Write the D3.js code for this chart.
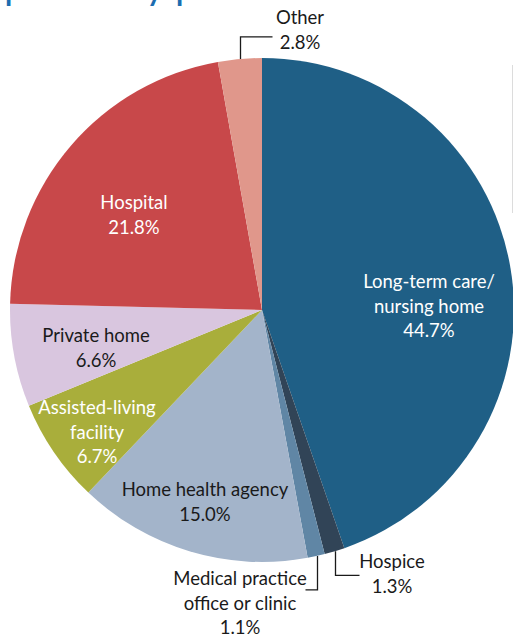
<!DOCTYPE html>
<html>
<head>
<meta charset="utf-8">
<script src="https://cdn.jsdelivr.net/npm/d3@7"></script>
<style>
  body { margin: 0; background: #fff; }
  svg text { font-family: Lato, "Open Sans", sans-serif; }
</style>
</head>
<body>
<svg id="chart" width="513" height="637"></svg>
<script>
// slices, clockwise from 12 o'clock
const categories = ["Long-term care/ nursing home", "Hospice", "Medical practice office or clinic",
  "Home health agency", "Assisted-living facility", "Private home", "Hospital", "Other"];
const values = [44.7, 1.3, 1.1, 15.0, 6.7, 6.6, 21.8, 2.8];
const labelLines = [
  ["Long-term care/", "nursing home", "44.7%"],
  ["Hospice", "1.3%"],
  ["Medical practice", "office or clinic", "1.1%"],
  ["Home health agency", "15.0%"],
  ["Assisted-living", "facility", "6.7%"],
  ["Private home", "6.6%"],
  ["Hospital", "21.8%"],
  ["Other", "2.8%"]
];

const colors = ["#1f5f86", "#314457", "#6086a5", "#a3b4ca", "#a9ae3b", "#d9c6df", "#c8484a", "#e0978b"];
const textColors = ["#fff", "#1a1a1a", "#1a1a1a", "#1a1a1a", "#fff", "#1a1a1a", "#fff", "#1a1a1a"];

// label placement (first baseline, centre x)
const labelPos = [
  {x: 429, y: 288}, {x: 392, y: 568}, {x: 240, y: 585}, {x: 205, y: 496},
  {x: 97, y: 414}, {x: 96, y: 342}, {x: 134, y: 209}, {x: 300, y: 24}
];

const cx = 262, cy = 310, radius = 252;
const svg = d3.select("#chart");

// cropped title line from the page above the chart (only descenders show)
svg.append("text")
    .attr("x", 4)
    .attr("y", -1)
    .attr("font-size", 40)
    .attr("fill", "#1c6db0")
    .text("places by provider and at home,");

// thin rule on the right edge
svg.append("line")
    .attr("x1", 512.5).attr("x2", 512.5)
    .attr("y1", 65).attr("y2", 213)
    .attr("stroke", "#dcdcdc")
    .attr("stroke-width", 1);

const pie = d3.pie().sort(null).value(d => d);
const arc = d3.arc().innerRadius(0).outerRadius(radius);

const g = svg.append("g").attr("transform", "translate(" + cx + "," + cy + ")");

const arcs = pie(values);

g.selectAll(".slice")
    .data(arcs)
    .enter().append("path")
    .attr("class", "slice")
    .attr("d", arc)
    .attr("fill", (d, i) => colors[i]);

// leader lines for the thin slices
function edgePoint(d, frac) {
    let a = d.startAngle + (d.endAngle - d.startAngle) * frac;
    return [cx + Math.sin(a) * radius, cy - Math.cos(a) * radius];
}
const leaders = [
    {i: 7, frac: 0.5, dy: -22, dx: 32},
    {i: 1, frac: 0.5, dy: 24, dx: 24},
    {i: 2, frac: 0.45, dy: 34, dx: -12}
];
leaders.forEach(function (l) {
    let p = edgePoint(arcs[l.i], l.frac);
    let x0 = Math.round(p[0]) + 0.5, y0 = p[1];
    svg.append("path")
        .attr("d", "M" + x0 + "," + y0 + "V" + (y0 + l.dy) + "H" + (x0 + l.dx))
        .attr("fill", "none")
        .attr("stroke", "#1a1a1a")
        .attr("stroke-width", 1.3);
});

// labels
labelLines.forEach(function (lines, i) {
    let t = svg.append("text")
        .attr("text-anchor", "middle")
        .attr("font-size", 18.5)
        .attr("fill", textColors[i]);
    lines.forEach(function (s, k) {
        t.append("tspan")
            .attr("x", labelPos[i].x)
            .attr("y", labelPos[i].y + k * 24.5)
            .text(s);
    });
});
</script>
</body>
</html>
